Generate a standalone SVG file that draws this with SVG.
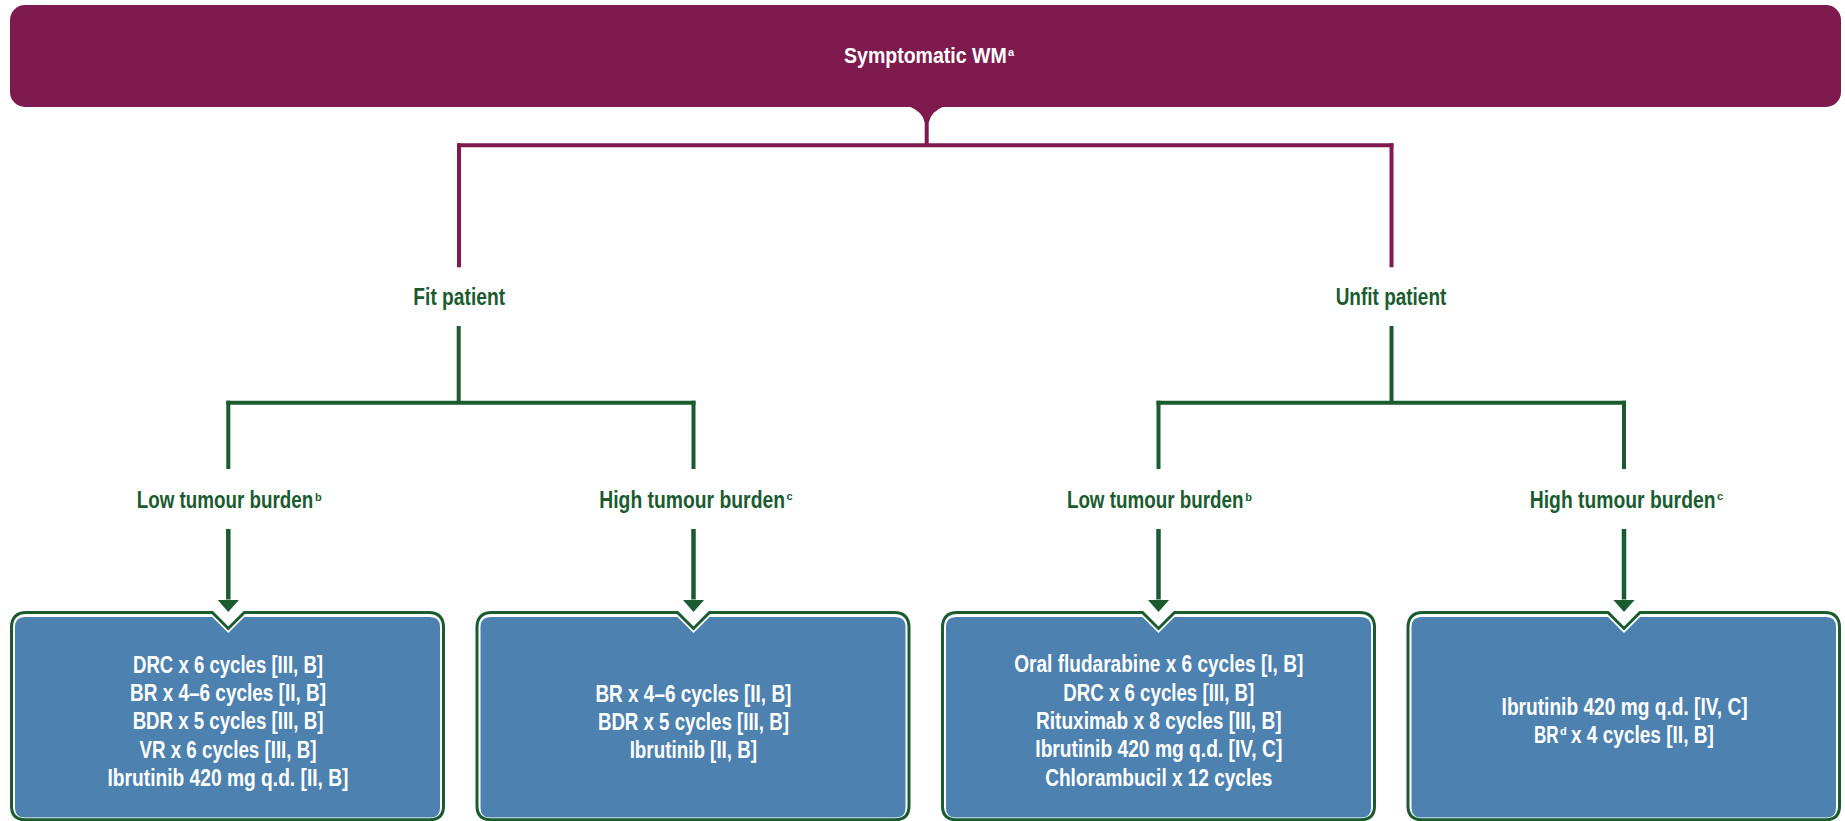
<svg xmlns="http://www.w3.org/2000/svg" width="1845" height="821" viewBox="0 0 1845 821">
<style>
  text { font-family: "Liberation Sans Narrow", "Liberation Sans", Arial, sans-serif; font-weight: bold; }
  .hdr { fill: #ffffff; font-size: 22px; }
  .lbl { fill: #1B5B30; font-size: 23px; }
  .box { fill: #ffffff; font-size: 23px; text-anchor: middle; }
  text.sup { font-size: 11px; text-anchor: start; }
  .mag { stroke: #7E1A4E; stroke-width: 4; fill: none; }
  .grn { stroke: #1B5B30; stroke-width: 4; fill: none; }
  .arr { stroke: #1B5B30; stroke-width: 4.5; fill: none; marker-end: url(#ah); }
  .outer { fill: #ffffff; stroke: #1B5B30; stroke-width: 3; }
  .inner { fill: #4D81AF; }
</style>
<defs>
  <marker id="ah" markerUnits="userSpaceOnUse" viewBox="0 -11 12.5 22" refX="0" refY="0" markerWidth="12.5" markerHeight="22" orient="auto">
    <path d="M0,-11 L12.5,0 L0,11 Z" fill="#1B5B30"/>
  </marker>
</defs>

<g id="symptomatic-wm">
  <rect x="10" y="5" width="1831" height="102" rx="15" ry="15" fill="#7E1A4E"/>
  <path d="M908.5,106 L944.5,106 Q930.5,112 929,122 L924.5,122 Q923,112 908.5,106 Z" fill="#7E1A4E"/>
  <text class="hdr" x="844" y="62.7" textLength="162.7" lengthAdjust="spacingAndGlyphs">Symptomatic WM</text>
  <text class="hdr sup" x="1008" y="56">a</text>
</g>

<g id="connectors">
  <line class="mag" x1="926.7" y1="120" x2="926.7" y2="145.3"/>
  <line class="mag" x1="457" y1="145.3" x2="1393.5" y2="145.3"/>
  <line class="mag" x1="459" y1="143.3" x2="459" y2="267.3"/>
  <line class="mag" x1="1391.5" y1="143.3" x2="1391.5" y2="267.3"/>

  <line class="grn" x1="458.7" y1="326" x2="458.7" y2="402.7"/>
  <line class="grn" x1="226.3" y1="402.7" x2="695.5" y2="402.7"/>
  <line class="grn" x1="228.3" y1="400.7" x2="228.3" y2="469"/>
  <line class="grn" x1="693.5" y1="400.7" x2="693.5" y2="469"/>

  <line class="grn" x1="1391.5" y1="326" x2="1391.5" y2="402.7"/>
  <line class="grn" x1="1156.5" y1="402.7" x2="1626" y2="402.7"/>
  <line class="grn" x1="1158.5" y1="400.7" x2="1158.5" y2="469"/>
  <line class="grn" x1="1624" y1="400.7" x2="1624" y2="469"/>

  <line class="arr" x1="228.3" y1="529" x2="228.3" y2="599.5"/>
  <line class="arr" x1="693.5" y1="529" x2="693.5" y2="599.5"/>
  <line class="arr" x1="1158.5" y1="529" x2="1158.5" y2="599.5"/>
  <line class="arr" x1="1624" y1="529" x2="1624" y2="599.5"/>
</g>

<g id="fit-patient">
  <text class="lbl" x="459.2" y="305" text-anchor="middle" textLength="91.7" lengthAdjust="spacingAndGlyphs">Fit patient</text>
</g>
<g id="unfit-patient">
  <text class="lbl" x="1391" y="305" text-anchor="middle" textLength="110.7" lengthAdjust="spacingAndGlyphs">Unfit patient</text>
</g>

<g id="fit-low-burden">
  <text class="lbl" x="136.7" y="508" textLength="176.6" lengthAdjust="spacingAndGlyphs">Low tumour burden</text>
  <text class="lbl sup" x="315" y="500.5">b</text>
</g>
<g id="fit-high-burden">
  <text class="lbl" x="599.3" y="508" textLength="185.7" lengthAdjust="spacingAndGlyphs">High tumour burden</text>
  <text class="lbl sup" x="786.5" y="500">c</text>
</g>
<g id="unfit-low-burden">
  <text class="lbl" x="1066.9" y="508" textLength="176.6" lengthAdjust="spacingAndGlyphs">Low tumour burden</text>
  <text class="lbl sup" x="1245.2" y="500.5">b</text>
</g>
<g id="unfit-high-burden">
  <text class="lbl" x="1529.8" y="508" textLength="185.7" lengthAdjust="spacingAndGlyphs">High tumour burden</text>
  <text class="lbl sup" x="1717" y="500">c</text>
</g>

<g id="box-fit-low">
  <path class="outer" d="M26.5,612.5 L212.3,612.5 L228.3,628.5 L244.3,612.5 L428.5,612.5 Q443.5,612.5 443.5,627.5 L443.5,806 Q443.5,819.8 429.5,819.8 L25.5,819.8 Q11.5,819.8 11.5,806 L11.5,627.5 Q11.5,612.5 26.5,612.5 Z"/>
  <path class="inner" d="M25,617 L212.3,617 L228.3,633 L244.3,617 L430,617 Q440,617 440,627 L440,808 Q440,817.5 430.5,817.5 L24.5,817.5 Q15,817.5 15,808 L15,627 Q15,617 25,617 Z"/>
  <text class="box" x="228" y="672.7" textLength="190" lengthAdjust="spacingAndGlyphs">DRC x 6 cycles [III, B]</text>
  <text class="box" x="228" y="701" textLength="196" lengthAdjust="spacingAndGlyphs">BR x 4–6 cycles [II, B]</text>
  <text class="box" x="228" y="729.3" textLength="190.7" lengthAdjust="spacingAndGlyphs">BDR x 5 cycles [III, B]</text>
  <text class="box" x="228" y="757.6" textLength="177" lengthAdjust="spacingAndGlyphs">VR x 6 cycles [III, B]</text>
  <text class="box" x="228" y="786" textLength="241" lengthAdjust="spacingAndGlyphs">Ibrutinib 420 mg q.d. [II, B]</text>
</g>

<g id="box-fit-high">
  <path class="outer" d="M492,612.5 L677.5,612.5 L693.5,628.5 L709.5,612.5 L894,612.5 Q909,612.5 909,627.5 L909,806 Q909,819.8 895,819.8 L491,819.8 Q477,819.8 477,806 L477,627.5 Q477,612.5 492,612.5 Z"/>
  <path class="inner" d="M490.5,617 L677.5,617 L693.5,633 L709.5,617 L895.5,617 Q905.5,617 905.5,627 L905.5,808 Q905.5,817.5 896,817.5 L490,817.5 Q480.5,817.5 480.5,808 L480.5,627 Q480.5,617 490.5,617 Z"/>
  <text class="box" x="693.4" y="701.5" textLength="196" lengthAdjust="spacingAndGlyphs">BR x 4–6 cycles [II, B]</text>
  <text class="box" x="693.4" y="730" textLength="191" lengthAdjust="spacingAndGlyphs">BDR x 5 cycles [III, B]</text>
  <text class="box" x="693.4" y="758.3" textLength="127.5" lengthAdjust="spacingAndGlyphs">Ibrutinib [II, B]</text>
</g>

<g id="box-unfit-low">
  <path class="outer" d="M957.5,612.5 L1142.5,612.5 L1158.5,628.5 L1174.5,612.5 L1359.5,612.5 Q1374.5,612.5 1374.5,627.5 L1374.5,806 Q1374.5,819.8 1360.5,819.8 L956.5,819.8 Q942.5,819.8 942.5,806 L942.5,627.5 Q942.5,612.5 957.5,612.5 Z"/>
  <path class="inner" d="M956,617 L1142.5,617 L1158.5,633 L1174.5,617 L1361,617 Q1371,617 1371,627 L1371,808 Q1371,817.5 1361.5,817.5 L955.5,817.5 Q946,817.5 946,808 L946,627 Q946,617 956,617 Z"/>
  <text class="box" x="1158.8" y="672.2" textLength="289" lengthAdjust="spacingAndGlyphs">Oral fludarabine x 6 cycles [I, B]</text>
  <text class="box" x="1158.8" y="700.5" textLength="191" lengthAdjust="spacingAndGlyphs">DRC x 6 cycles [III, B]</text>
  <text class="box" x="1158.8" y="728.8" textLength="245.5" lengthAdjust="spacingAndGlyphs">Rituximab x 8 cycles [III, B]</text>
  <text class="box" x="1158.8" y="757.2" textLength="247" lengthAdjust="spacingAndGlyphs">Ibrutinib 420 mg q.d. [IV, C]</text>
  <text class="box" x="1158.8" y="785.5" textLength="227" lengthAdjust="spacingAndGlyphs">Chlorambucil x 12 cycles</text>
</g>

<g id="box-unfit-high">
  <path class="outer" d="M1423,612.5 L1608,612.5 L1624,628.5 L1640,612.5 L1824.5,612.5 Q1839.5,612.5 1839.5,627.5 L1839.5,806 Q1839.5,819.8 1825.5,819.8 L1422,819.8 Q1408,819.8 1408,806 L1408,627.5 Q1408,612.5 1423,612.5 Z"/>
  <path class="inner" d="M1421.5,617 L1608,617 L1624,633 L1640,617 L1826,617 Q1836,617 1836,627 L1836,808 Q1836,817.5 1826.5,817.5 L1421,817.5 Q1411.5,817.5 1411.5,808 L1411.5,627 Q1411.5,617 1421.5,617 Z"/>
  <text class="box" x="1624.6" y="715" textLength="246" lengthAdjust="spacingAndGlyphs">Ibrutinib 420 mg q.d. [IV, C]</text>
  <text class="box" x="1534" y="743.3" textLength="24.6" lengthAdjust="spacingAndGlyphs" style="text-anchor:start">BR</text>
  <text class="box sup" x="1560" y="735">d</text>
  <text class="box" x="1571" y="743.3" textLength="142.8" lengthAdjust="spacingAndGlyphs" style="text-anchor:start">x 4 cycles [II, B]</text>
</g>
</svg>
